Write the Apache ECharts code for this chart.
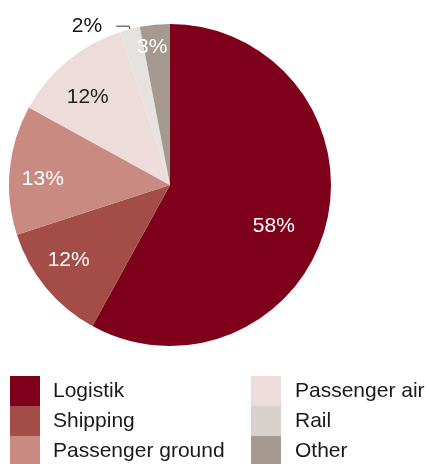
<!DOCTYPE html>
<html>
<head>
<meta charset="utf-8">
<script src="https://cdn.jsdelivr.net/npm/echarts@6/dist/echarts.min.js"></script>
<style>html,body{margin:0;padding:0;background:#fff}#c{width:429px;height:464px}</style>
</head>
<body>
<div id="c"></div>
<script>
var categories = ['Logistik', 'Shipping', 'Passenger ground', 'Passenger air', 'Rail', 'Other'];
var values = [58, 12, 13, 12, 2, 3];
var colors = ['#7f001b', '#a34c48', '#c98b81', '#eedcda', '#e6e2df', '#a69a90'];
var legendColors = ['#7f001b', '#a34c48', '#c98b81', '#eedcda', '#d9d1cc', '#a69a90'];
var labelColors = ['#ffffff', '#ffffff', '#ffffff', '#222222', '#111111', '#ffffff'];

// label nudges relative to the default inside label position
var nudges = [[23, 20], [-37, 22], [-44, 2], [-29, -23], [0, 0], [-10, -55]];

var font = '"Liberation Sans", Arial, Helvetica, sans-serif';
var data = categories.map(function (name, i) {
  var item = {
    name: name,
    value: values[i],
    itemStyle: { color: colors[i] },
    label: { color: labelColors[i] }
  };
  if (name === 'Rail') {
    item.label = { position: 'outside', color: labelColors[i], padding: [0, 0, 10, 0], distanceToLabelLine: 14 };
    item.labelLine = { show: true, length: 3, length2: 13, lineStyle: { color: '#333', width: 1 } };
  }
  return item;
});
function legendData(from, to) {
  return categories.slice(from, to).map(function (name, k) {
    return { name: name, itemStyle: { color: legendColors[from + k] } };
  });
}

var legendBase = {
  orient: 'vertical',
  top: 376,
  height: 120,
  itemWidth: 30,
  itemHeight: 30,
  itemGap: 0,
  padding: 0,
  icon: 'rect',
  selectedMode: false,
  textStyle: { fontFamily: font, fontSize: 21, color: '#1a1a1a', padding: [0, 0, 0, 8] }
};

var chart = echarts.init(document.getElementById('c'));
chart.setOption({
  animation: false,
  legend: [
    Object.assign({}, legendBase, { left: 10, data: legendData(0, 3) }),
    Object.assign({}, legendBase, { left: 251, data: legendData(3, 6), textStyle: Object.assign({}, legendBase.textStyle, { padding: [0, 0, 0, 9] }) })
  ],
  series: [{
    type: 'pie',
    center: [170, 185],
    radius: [0, 161],
    startAngle: 90,
    clockwise: true,
    avoidLabelOverlap: false,
    label: {
      show: true,
      position: 'inside',
      formatter: '{c}%',
      fontFamily: font,
      fontSize: 21
    },
    labelLine: { show: false },
    labelLayout: function (p) {
      var n = nudges[p.dataIndex];
      return { dx: n[0], dy: n[1] };
    },
    emphasis: { disabled: true },
    data: data
  }]
});
</script>
</body>
</html>
